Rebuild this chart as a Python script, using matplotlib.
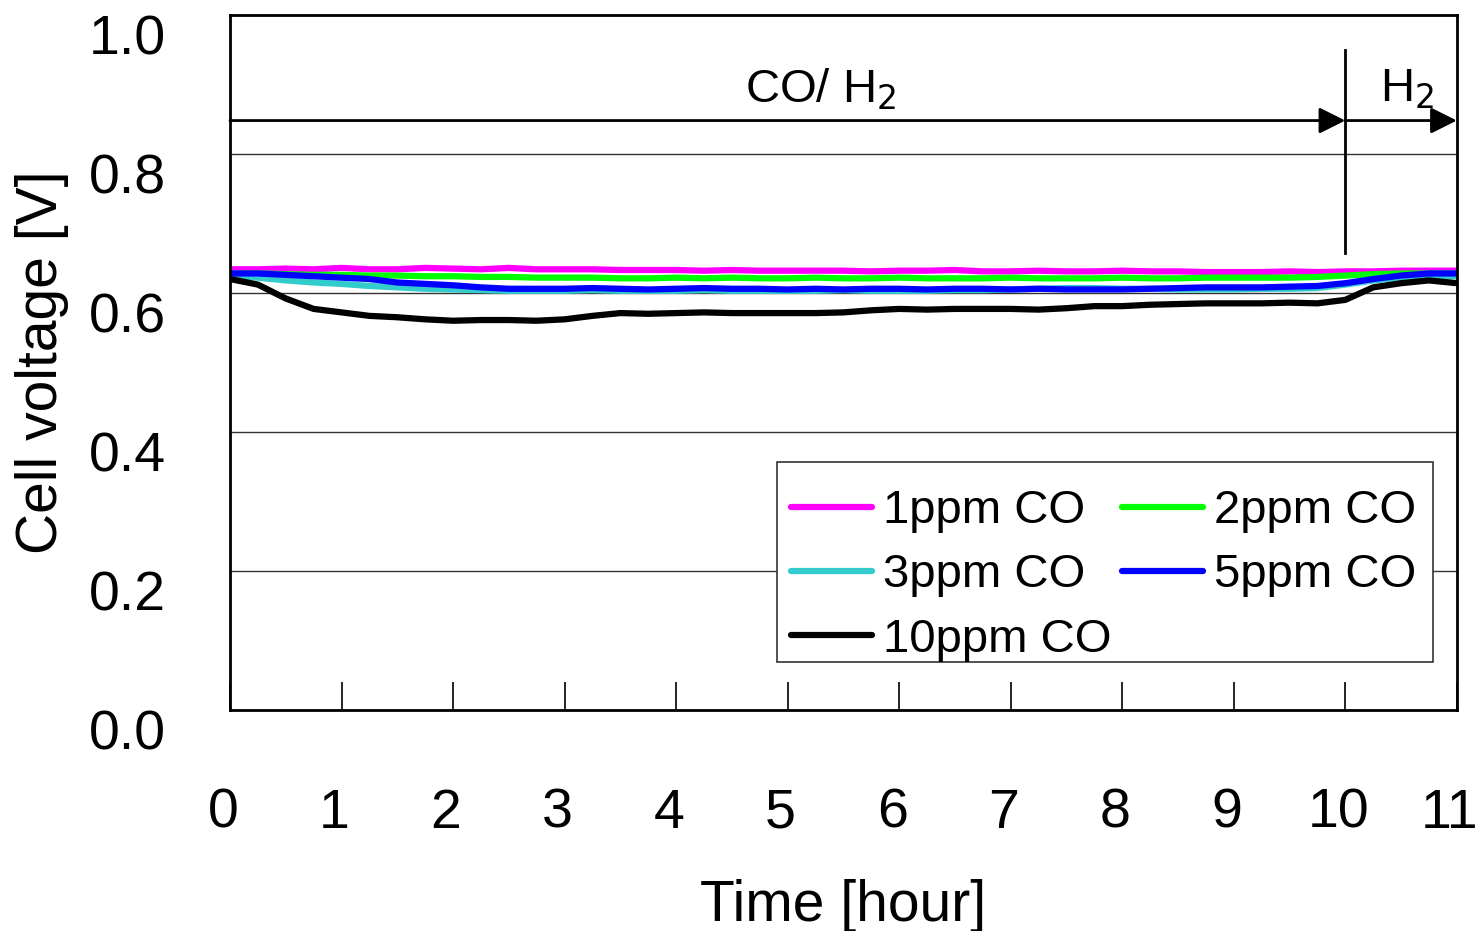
import numpy as np
import matplotlib
matplotlib.use("Agg")
import matplotlib.pyplot as plt
import matplotlib.transforms as mtransforms
from matplotlib.patches import Rectangle

plt.rcParams["font.family"] = ["Liberation Sans", "DejaVu Sans"]

# time axis [hour], every 15 min
time_h = np.arange(0, 11.01, 0.25)

v_1ppm = [0.634, 0.634, 0.635, 0.634, 0.636, 0.634, 0.634, 0.636, 0.635, 0.634,
          0.636, 0.634, 0.634, 0.634, 0.633, 0.633, 0.633, 0.632, 0.633, 0.632,
          0.632, 0.632, 0.632, 0.631, 0.632, 0.632, 0.633, 0.631, 0.631, 0.632,
          0.631, 0.631, 0.632, 0.631, 0.631, 0.630, 0.630, 0.630, 0.631, 0.630,
          0.631, 0.631, 0.632, 0.632, 0.632]
v_2ppm = [0.628, 0.628, 0.627, 0.626, 0.626, 0.625, 0.625, 0.624, 0.624, 0.623,
          0.623, 0.622, 0.622, 0.622, 0.621, 0.621, 0.622, 0.621, 0.622, 0.621,
          0.621, 0.622, 0.621, 0.621, 0.622, 0.621, 0.621, 0.621, 0.622, 0.621,
          0.621, 0.621, 0.622, 0.621, 0.621, 0.622, 0.622, 0.622, 0.622, 0.623,
          0.625, 0.627, 0.628, 0.628, 0.628]
v_3ppm = [0.625, 0.622, 0.618, 0.615, 0.613, 0.610, 0.608, 0.606, 0.605, 0.604,
          0.603, 0.603, 0.603, 0.604, 0.603, 0.603, 0.603, 0.604, 0.603, 0.603,
          0.603, 0.603, 0.604, 0.603, 0.603, 0.603, 0.604, 0.604, 0.605, 0.606,
          0.607, 0.607, 0.606, 0.606, 0.605, 0.605, 0.605, 0.606, 0.606, 0.607,
          0.612, 0.618, 0.622, 0.624, 0.624]
v_5ppm = [0.628, 0.628, 0.626, 0.624, 0.622, 0.620, 0.615, 0.613, 0.611, 0.608,
          0.606, 0.606, 0.606, 0.607, 0.606, 0.605, 0.606, 0.607, 0.606, 0.606,
          0.605, 0.606, 0.605, 0.606, 0.606, 0.605, 0.606, 0.606, 0.605, 0.606,
          0.605, 0.605, 0.605, 0.606, 0.607, 0.608, 0.608, 0.608, 0.609, 0.610,
          0.614, 0.620, 0.625, 0.628, 0.628]
v_10ppm = [0.620, 0.612, 0.592, 0.577, 0.572, 0.567, 0.565, 0.562, 0.560, 0.561,
           0.561, 0.560, 0.562, 0.567, 0.571, 0.570, 0.571, 0.572, 0.571, 0.571,
           0.571, 0.571, 0.572, 0.575, 0.577, 0.576, 0.577, 0.577, 0.577, 0.576,
           0.578, 0.581, 0.581, 0.583, 0.584, 0.585, 0.585, 0.585, 0.586, 0.585,
           0.590, 0.608, 0.614, 0.618, 0.614]

labels = ["1ppm CO", "2ppm CO", "3ppm CO", "5ppm CO", "10ppm CO"]
colors = ["#ff00ff", "#00ff00", "#33cccc", "#0000ff", "#000000"]
series = [v_1ppm, v_2ppm, v_3ppm, v_5ppm, v_10ppm]

fig = plt.figure(figsize=(14.79, 9.31), dpi=100)
ax = fig.add_axes([0.1555, 0.2374, 0.8295, 0.7466])

lines = []
for y, c, lab in zip(series, colors, labels):
    ln, = ax.plot(time_h, y, color=c, lw=4.5, label=lab, solid_capstyle="round")
    lines.append(ln)

ax.set_xlim(0, 11)
ax.set_ylim(0, 1.0)
ax.set_xticks(range(0, 12))
ax.set_yticks(np.arange(0, 1.01, 0.2))
ax.set_yticklabels(["0.0", "0.2", "0.4", "0.6", "0.8", "1.0"])
ax.yaxis.grid(True, color="#333333", lw=1.0)
ax.tick_params(axis="x", direction="in", length=20, width=1.2, labelsize=40, pad=56)
ax.tick_params(axis="y", length=0, labelsize=40, pad=46)
for sp in ax.spines.values():
    sp.set_linewidth(2)

# excel-style offset of the y labels
off = mtransforms.ScaledTranslation(0, -0.2, fig.dpi_scale_trans)
for lbl in ax.get_yticklabels():
    lbl.set_transform(lbl.get_transform() + off)
offx = mtransforms.ScaledTranslation(-0.07, 0, fig.dpi_scale_trans)
for lbl in ax.get_xticklabels():
    lbl.set_transform(lbl.get_transform() + offx)

ax.set_xlabel("Time [hour]", fontsize=41, labelpad=28)
ax.set_ylabel("Cell voltage [V]", fontsize=41, labelpad=14)

# gas phase annotations
arrow_kw = dict(arrowstyle="-|>", color="k", lw=2, mutation_scale=40, shrinkA=0, shrinkB=0)
ax.annotate("", xy=(10, 0.848), xytext=(0, 0.848), arrowprops=arrow_kw)
ax.annotate("", xy=(11, 0.848), xytext=(10, 0.848), arrowprops=arrow_kw, annotation_clip=False)
ax.plot([10, 10], [0.657, 0.950], color="k", lw=2)
ax.text(5.3, 0.893, "CO/ H$_2$", fontsize=34, ha="center", va="center")
ax.text(10.55, 0.893, "H$_2$", fontsize=34, ha="center", va="center")

# legend box drawn separately (text sits low in the box, like the original)
ax.add_patch(Rectangle((0.4458, 0.0691), 0.5346, 0.2878, transform=ax.transAxes,
                       facecolor="white", edgecolor="#333333", lw=1.2, zorder=4))

# row-major ordering in a two column legend
order = [0, 2, 4, 1, 3]
leg = ax.legend([lines[i] for i in order], [labels[i] for i in order],
                ncol=2, loc="lower left", bbox_to_anchor=(0.446, 0.049),
                fontsize=34, frameon=False,
                handlelength=1.7, handletextpad=0.25, columnspacing=0.22,
                labelspacing=0.43, borderpad=0.3, borderaxespad=0)
leg.set_zorder(5)

fig.savefig("out.png", dpi=100)
